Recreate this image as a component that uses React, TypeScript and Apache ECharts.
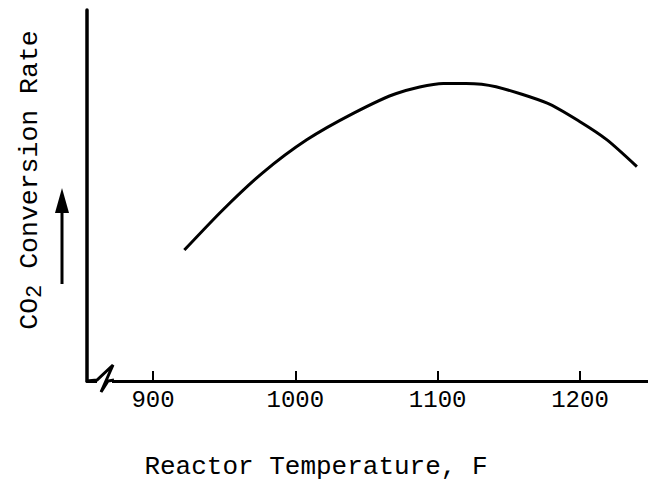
import React, { useEffect, useRef } from "react";
import * as echarts from "echarts";

const temperatures = [922, 949, 977, 1008, 1041, 1071, 1104, 1120, 1141, 1177, 1200, 1219, 1240];
const conversionRate = [35.3, 46.1, 56.1, 65.0, 72.2, 77.5, 80.2, 80.2, 79.3, 74.9, 69.9, 65.0, 57.8];
const tickValues = [900, 1000, 1100, 1200];
const xTitle = "Reactor Temperature, F";
const yTitleParts = ["CO", "2", " Conversion Rate"];

export default function App() {
  const ref = useRef<HTMLDivElement>(null);
  useEffect(() => {
    document.body.style.margin = "0";
    if (!ref.current) return;
    const chart = echarts.init(ref.current, null, { renderer: "svg" });
    const font = "Liberation Mono";
    chart.setOption({
      animation: false,
      backgroundColor: "#ffffff",
      grid: { left: 87, right: 0, top: 10, bottom: 109, containLabel: false },
      xAxis: {
        type: "value",
        min: 853.6,
        max: 1247.8,
        splitLine: { show: false },
        axisLine: { show: true, onZero: false, lineStyle: { color: "#000", width: 3 } },
        axisTick: {
          show: true,
          inside: true,
          length: 10,
          customValues: tickValues,
          lineStyle: { color: "#000", width: 2 },
        },
        axisLabel: {
          show: true,
          customValues: tickValues,
          formatter: (v: number) => String(v),
          margin: 7,
          color: "#000",
          fontFamily: font,
          fontSize: 24,
        },
      },
      yAxis: {
        type: "value",
        min: 0,
        max: 100,
        splitLine: { show: false },
        axisLine: { show: true, lineStyle: { color: "#000", width: 3.5 } },
        axisTick: { show: false },
        axisLabel: { show: false },
      },
      series: [
        {
          type: "line",
          data: temperatures.map((t, i) => [t, conversionRate[i]]),
          smooth: 0.25,
          showSymbol: false,
          lineStyle: { color: "#000", width: 3 },
          z: 3,
        },
      ],
      graphic: [
        {
          type: "rect",
          z: 100,
          shape: { x: 97, y: 376, width: 15, height: 10 },
          style: { fill: "#fff" },
        },
        {
          type: "polyline",
          z: 101,
          shape: { points: [[87, 381], [97, 380], [113, 365], [101, 392], [108, 381], [114, 380]] },
          style: { stroke: "#000", lineWidth: 3, fill: null },
        },
        {
          type: "line",
          z: 100,
          shape: { x1: 62, y1: 284, x2: 62, y2: 206 },
          style: { stroke: "#000", lineWidth: 3 },
        },
        {
          type: "polygon",
          z: 100,
          shape: { points: [[55, 213], [62, 188], [69, 213]] },
          style: { fill: "#000" },
        },
        {
          type: "text",
          z: 100,
          x: 316,
          y: 467,
          style: {
            text: xTitle,
            font: `26px "${font}"`,
            fill: "#000",
            align: "center",
            verticalAlign: "middle",
          },
        },
        {
          type: "text",
          z: 100,
          x: 31,
          y: 180,
          rotation: Math.PI / 2,
          style: {
            text: `{a|${yTitleParts[0]}}{s|${yTitleParts[1]}}{a|${yTitleParts[2]}}`,
            fill: "#000",
            align: "center",
            verticalAlign: "middle",
            rich: {
              a: { fontFamily: font, fontSize: 26.5, lineHeight: 30, verticalAlign: "top", fill: "#000" },
              s: {
                fontFamily: font,
                fontSize: 22,
                lineHeight: 26,
                verticalAlign: "bottom",
                padding: [18, 0, 0, 0],
                fill: "#000",
              },
            },
          },
        },
      ],
    });
    return () => chart.dispose();
  }, []);
  return <div ref={ref} style={{ width: 648, height: 490 }} />;
}
